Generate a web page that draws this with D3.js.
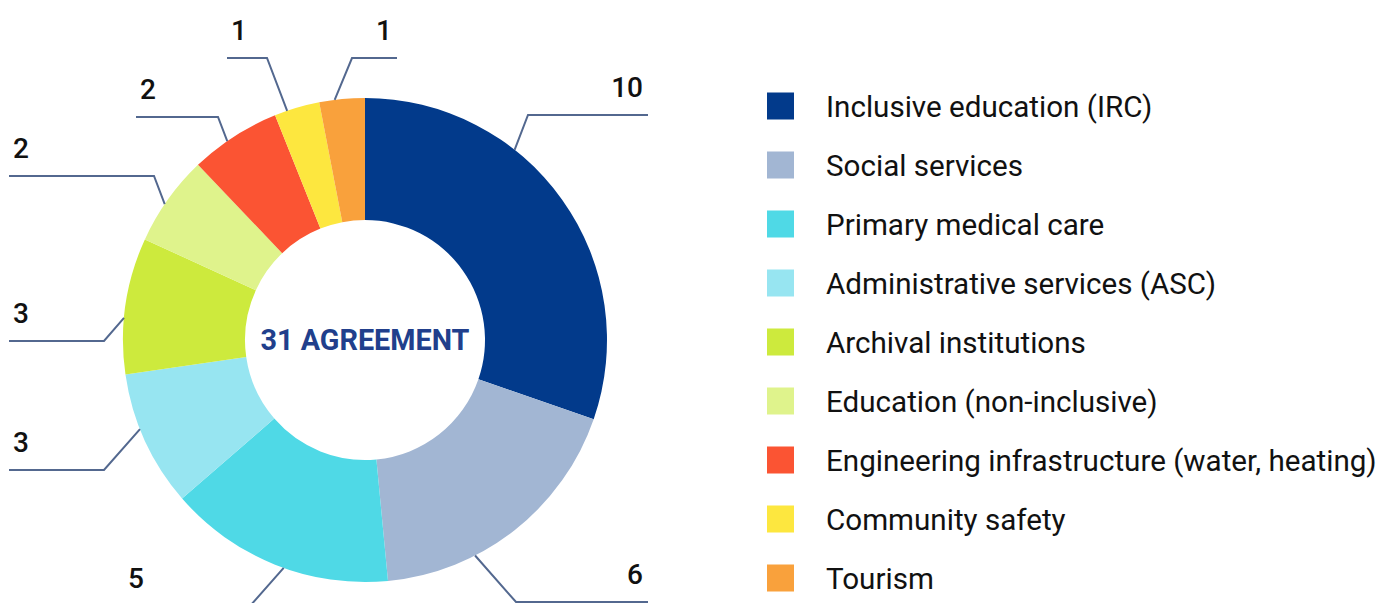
<!DOCTYPE html>
<html>
<head>
<meta charset="utf-8">
<script src="https://cdn.jsdelivr.net/npm/d3@7/dist/d3.min.js"></script>
<style>
  html, body { margin: 0; padding: 0; background: #ffffff; }
  svg { display: block; }
  text { font-family: Roboto, "Noto Sans", sans-serif; }
</style>
</head>
<body>
<svg id="chart" width="1384" height="603"></svg>
<script>
// Agreements by sector
const categories = [
  "Inclusive education (IRC)",
  "Social services",
  "Primary medical care",
  "Administrative services (ASC)",
  "Archival institutions",
  "Education (non-inclusive)",
  "Engineering infrastructure (water, heating)",
  "Community safety",
  "Tourism"
];
const values = [10, 6, 5, 3, 3, 2, 2, 1, 1];
const sliceColors = [
  "#023a8b", "#a2b6d3", "#4fd9e6", "#97e5f1", "#cdea3d",
  "#dff38c", "#fb5433", "#fde73f", "#f9a13c"
];
const centerLabel = "31 AGREEMENT";

// Leader-line geometry, one entry per slice:
// t = where along the slice's outer arc the line starts (0..1),
// ex/ey = elbow offset from the donut centre, endX = outer end of the horizontal run.
const leaderLayout = [
  { t: 0.35, ex: 163,  ey: -225, endX: 283 },
  { t: 0.67, ex: 151,  ey: 262,  endX: 283 },
  { t: 0.46, ex: -115, ey: 266,  endX: -241 },
  { t: 0.59, ex: -261, ey: 130,  endX: -356 },
  { t: 0.41, ex: -261, ey: 1,    endX: -356 },
  { t: 0.44, ex: -211, ey: -164, endX: -356 },
  { t: 0.41, ex: -147, ey: -223, endX: -229 },
  { t: 0.28, ex: -98,  ey: -282, endX: -138 },
  { t: 0.34, ex: -13,  ey: -282, endX: 32 }
];

const svg = d3.select("#chart");
const cx = 365, cy = 340;
const outerR = 242, innerR = 120;

const color = d3.scaleOrdinal().domain(categories).range(sliceColors);

const pie = d3.pie().sort(null).value(d => d.value)
  .startAngle(0).endAngle(2 * Math.PI);
const arcs = pie(categories.map((c, i) => ({ name: c, value: values[i], i })));

const arc = d3.arc().innerRadius(innerR).outerRadius(outerR);

const g = svg.append("g").attr("transform", `translate(${cx},${cy})`);

g.selectAll("path.slice")
  .data(arcs)
  .join("path")
  .attr("class", "slice")
  .attr("d", arc)
  .attr("fill", d => color(d.data.name));

// Centre caption
g.append("text")
  .attr("x", 0)
  .attr("y", 0)
  .attr("dy", "0.35em")
  .attr("text-anchor", "middle")
  .attr("font-size", 28.8)
  .attr("font-weight", 700)
  .attr("fill", "#213f8c")
  .text(centerLabel);

// Leader lines and value labels
const leaders = g.append("g").attr("class", "leaders");
arcs.forEach((d, i) => {
  const L = leaderLayout[i];
  const a = d.startAngle + L.t * (d.endAngle - d.startAngle);
  const ax = outerR * Math.sin(a), ay = -outerR * Math.cos(a);
  leaders.append("path")
    .attr("d", d3.line()([[ax, ay], [L.ex, L.ey], [L.endX, L.ey]]))
    .attr("fill", "none")
    .attr("stroke", "#53688f")
    .attr("stroke-width", 2);
  const toRight = L.endX > L.ex;
  leaders.append("text")
    .attr("x", toRight ? L.endX - 5 : L.endX + 4)
    .attr("y", L.ey - 18)
    .attr("text-anchor", toRight ? "end" : "start")
    .attr("font-size", 28)
    .attr("font-weight", 500)
    .attr("fill", "#111111")
    .text(d.data.value);
});

// Legend
const legendX = 767, legendY0 = 106, legendStep = 59, sw = 27;
const legend = svg.append("g").attr("class", "legend");
const rows = legend.selectAll("g")
  .data(categories)
  .join("g")
  .attr("transform", (c, i) => `translate(${legendX},${legendY0 + i * legendStep})`);
rows.append("rect")
  .attr("x", 0).attr("y", -sw / 2)
  .attr("width", sw).attr("height", sw)
  .attr("fill", c => color(c));
rows.append("text")
  .attr("x", 59)
  .attr("y", 0)
  .attr("dy", "0.36em")
  .attr("font-size", 29.6)
  .attr("fill", "#111111")
  .text(c => c);
</script>
</body>
</html>
